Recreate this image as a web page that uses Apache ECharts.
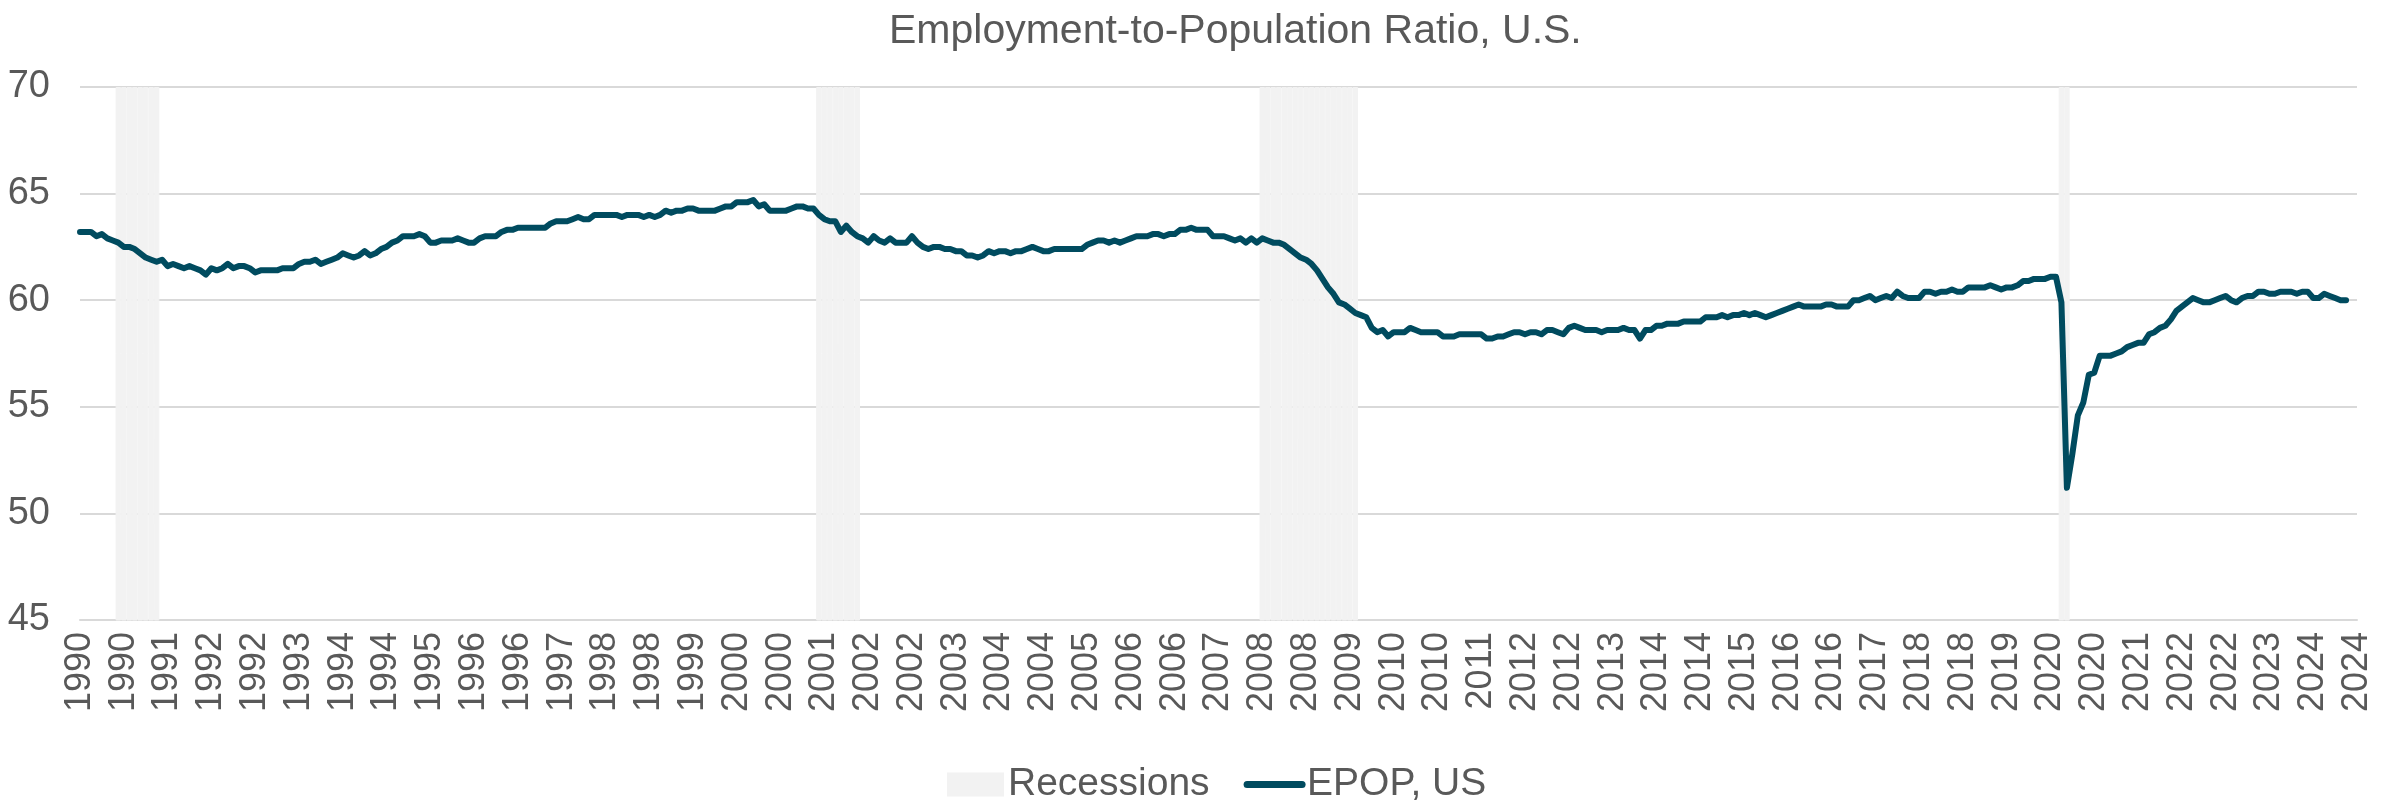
<!DOCTYPE html>
<html>
<head>
<meta charset="utf-8">
<title>Employment-to-Population Ratio, U.S.</title>
<script src="https://cdn.jsdelivr.net/npm/echarts@6/dist/echarts.min.js"></script>
<style>
    html, body { margin: 0; padding: 0; background: #fff; }
    #main { width: 2387px; height: 801px; }
</style>
</head>
<body>
<div id="main"></div>
<script>
// EPOP, US - monthly, percent, Jan 1990 .. Jul 2024 (one row per year)
var epop1990s = [
    63.2, 63.2, 63.2, 63.0, 63.1, 62.9, 62.8, 62.7, 62.5, 62.5, 62.4, 62.2,
    62.0, 61.9, 61.8, 61.9, 61.6, 61.7, 61.6, 61.5, 61.6, 61.5, 61.4, 61.2,
    61.5, 61.4, 61.5, 61.7, 61.5, 61.6, 61.6, 61.5, 61.3, 61.4, 61.4, 61.4,
    61.4, 61.5, 61.5, 61.5, 61.7, 61.8, 61.8, 61.9, 61.7, 61.8, 61.9, 62.0,
    62.2, 62.1, 62.0, 62.1, 62.3, 62.1, 62.2, 62.4, 62.5, 62.7, 62.8, 63.0,
    63.0, 63.0, 63.1, 63.0, 62.7, 62.7, 62.8, 62.8, 62.8, 62.9, 62.8, 62.7,
    62.7, 62.9, 63.0, 63.0, 63.0, 63.2, 63.3, 63.3, 63.4, 63.4, 63.4, 63.4,
    63.4, 63.4, 63.6, 63.7, 63.7, 63.7, 63.8, 63.9, 63.8, 63.8, 64.0, 64.0,
    64.0, 64.0, 64.0, 63.9, 64.0, 64.0, 64.0, 63.9, 64.0, 63.9, 64.0, 64.2,
    64.1, 64.2, 64.2, 64.3, 64.3, 64.2, 64.2, 64.2, 64.2, 64.3, 64.4, 64.4
];
var epop2000s = [
    64.6, 64.6, 64.6, 64.7, 64.4, 64.5, 64.2, 64.2, 64.2, 64.2, 64.3, 64.4,
    64.4, 64.3, 64.3, 64.0, 63.8, 63.7, 63.7, 63.2, 63.5, 63.2, 63.0, 62.9,
    62.7, 63.0, 62.8, 62.7, 62.9, 62.7, 62.7, 62.7, 63.0, 62.7, 62.5, 62.4,
    62.5, 62.5, 62.4, 62.4, 62.3, 62.3, 62.1, 62.1, 62.0, 62.1, 62.3, 62.2,
    62.3, 62.3, 62.2, 62.3, 62.3, 62.4, 62.5, 62.4, 62.3, 62.3, 62.4, 62.4,
    62.4, 62.4, 62.4, 62.4, 62.6, 62.7, 62.8, 62.8, 62.7, 62.8, 62.7, 62.8,
    62.9, 63.0, 63.0, 63.0, 63.1, 63.1, 63.0, 63.1, 63.1, 63.3, 63.3, 63.4,
    63.3, 63.3, 63.3, 63.0, 63.0, 63.0, 62.9, 62.8, 62.9, 62.7, 62.9, 62.7,
    62.9, 62.8, 62.7, 62.7, 62.6, 62.4, 62.2, 62.0, 61.9, 61.7, 61.4, 61.0,
    60.6, 60.3, 59.9, 59.8, 59.6, 59.4, 59.3, 59.2, 58.7, 58.5, 58.6, 58.3
];
var epop2010s = [
    58.5, 58.5, 58.5, 58.7, 58.6, 58.5, 58.5, 58.5, 58.5, 58.3, 58.3, 58.3,
    58.4, 58.4, 58.4, 58.4, 58.4, 58.2, 58.2, 58.3, 58.3, 58.4, 58.5, 58.5,
    58.4, 58.5, 58.5, 58.4, 58.6, 58.6, 58.5, 58.4, 58.7, 58.8, 58.7, 58.6,
    58.6, 58.6, 58.5, 58.6, 58.6, 58.6, 58.7, 58.6, 58.6, 58.2, 58.6, 58.6,
    58.8, 58.8, 58.9, 58.9, 58.9, 59.0, 59.0, 59.0, 59.0, 59.2, 59.2, 59.2,
    59.3, 59.2, 59.3, 59.3, 59.4, 59.3, 59.4, 59.3, 59.2, 59.3, 59.4, 59.5,
    59.6, 59.7, 59.8, 59.7, 59.7, 59.7, 59.7, 59.8, 59.8, 59.7, 59.7, 59.7,
    60.0, 60.0, 60.1, 60.2, 60.0, 60.1, 60.2, 60.1, 60.4, 60.2, 60.1, 60.1,
    60.1, 60.4, 60.4, 60.3, 60.4, 60.4, 60.5, 60.4, 60.4, 60.6, 60.6, 60.6,
    60.6, 60.7, 60.6, 60.5, 60.6, 60.6, 60.7, 60.9, 60.9, 61.0, 61.0, 61.0
];
var epop2020s = [
    61.1, 61.1, 59.9, 51.2, 52.8, 54.6, 55.2, 56.5, 56.6, 57.4, 57.4, 57.4,
    57.5, 57.6, 57.8, 57.9, 58.0, 58.0, 58.4, 58.5, 58.7, 58.8, 59.1, 59.5,
    59.7, 59.9, 60.1, 60.0, 59.9, 59.9, 60.0, 60.1, 60.2, 60.0, 59.9, 60.1,
    60.2, 60.2, 60.4, 60.4, 60.3, 60.3, 60.4, 60.4, 60.4, 60.3, 60.4, 60.4,
    60.1, 60.1, 60.3, 60.2, 60.1, 60.0, 60.0
];

// NBER recessions (first and last month shaded)
var recessionStart = ['1990-08', '2001-04', '2008-01', '2020-03'];
var recessionEnd   = ['1991-03', '2001-11', '2009-06', '2020-04'];

var firstYear = 1990;
var lastMonth = '2024-09';
var yMin = 45, yMax = 70, yStep = 5;

// month categories YYYY-MM
var months = [];
for (var y = firstYear; ; y++) {
    var done = false;
    for (var m = 1; m <= 12; m++) {
        var key = y + '-' + (m < 10 ? '0' + m : m);
        months.push(key);
        if (key === lastMonth) { done = true; break; }
    }
    if (done) break;
}

var epop = epop1990s.concat(epop2000s, epop2010s, epop2020s);
var epopData = months.map(function (k, i) {
    return i < epop.length ? epop[i] : null;
});
var recessionData = months.map(function (k) {
    for (var i = 0; i < recessionStart.length; i++) {
        if (k >= recessionStart[i] && k <= recessionEnd[i]) return yMax;
    }
    return '-';
});

var font = "'Liberation Sans', Arial, sans-serif";
var grey = '#595959';
var lineColor = '#004b5f';
var myChart = echarts.init(document.getElementById('main'));
var option = {
    animation: false,
    title: {
        text: 'Employment-to-Population Ratio, U.S.',
        left: 884,
        top: 6,
        textStyle: { fontFamily: font, fontSize: 41, fontWeight: 'normal', color: grey }
    },
    legend: {
        top: 760,
        left: 942,
        itemWidth: 55,
        itemHeight: 22,
        itemGap: 34,
        textStyle: { fontFamily: font, fontSize: 39, color: grey },
        lineStyle: { width: 7, cap: 'round' },
        data: [
            { name: 'Recessions', icon: 'rect' },
            { name: 'EPOP, US', itemStyle: { opacity: 0, borderWidth: 0 } }
        ]
    },
    grid: { left: 80, right: 30, top: 87, bottom: 181 },
    xAxis: {
        type: 'category',
        data: months,
        boundaryGap: false,
        axisTick: { show: false },
        axisLine: { lineStyle: { color: '#d9d9d9', width: 2 } },
        axisLabel: {
            interval: 7,
            rotate: 90,
            margin: 12,
            fontFamily: font,
            fontSize: 36,
            color: grey,
            formatter: function (v) { return v.slice(0, 4); }
        },
        splitLine: { show: false }
    },
    yAxis: {
        type: 'value',
        min: yMin,
        max: yMax,
        interval: yStep,
        axisLine: { show: false },
        axisTick: { show: false },
        axisLabel: { margin: 30, fontFamily: font, fontSize: 38, color: grey },
        splitLine: { lineStyle: { color: '#d9d9d9', width: 2 } }
    },
    series: [
        {
            name: 'Recessions',
            type: 'bar',
            data: recessionData,
            barWidth: '100%',
            silent: true,
            z: 1,
            itemStyle: { color: '#f2f2f2', borderColor: '#f2f2f2', borderWidth: 1 }
        },
        {
            name: 'EPOP, US',
            type: 'line',
            data: epopData,
            symbol: 'none',
            z: 3,
            itemStyle: { color: lineColor },
            lineStyle: { color: lineColor, width: 6, cap: 'round', join: 'round' }
        }
    ]
};
myChart.setOption(option);
</script>
</body>
</html>
